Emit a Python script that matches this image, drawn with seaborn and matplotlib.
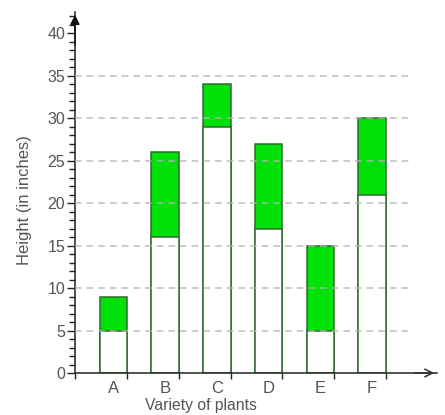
import numpy as np
import pandas as pd
import matplotlib
matplotlib.use("Agg")
import matplotlib.pyplot as plt
from matplotlib.ticker import MultipleLocator, FixedLocator
import seaborn as sns

# data
plants = ["A", "B", "C", "D", "E", "F"]
low = [5, 16, 29, 17, 5, 21]     # white lower part
high = [9, 26, 34, 27, 15, 30]   # top of the green part

sns.set_theme(style="white")
plt.rcParams['font.family'] = ['Liberation Sans', 'DejaVu Sans']

df = pd.DataFrame({"plant": plants, "low": low, "high": high})

fig = plt.figure(figsize=(4.45, 4.15), dpi=100)
ax = fig.add_axes([75 / 445, 42 / 415, (437 - 75) / 445, (373 - 12) / 415])

green = "#00e10a"
edge = "#2f6b2f"
bar_w = 0.53

sns.barplot(data=df, x="plant", y="high", color=green, width=bar_w,
            edgecolor=edge, linewidth=1.1, saturation=1, ax=ax)
sns.barplot(data=df, x="plant", y="low", color="white", width=bar_w,
            edgecolor=edge, linewidth=1.1, saturation=1, ax=ax)

x_left = -0.745
x_right = 6.26
ax.set_xlim(x_left, x_right)
ax.set_ylim(0, 42.5)

# dashed guide lines, drawn on top
ax.hlines(np.arange(5, 40, 5), x_left, 5.73, colors="#b5b5b5",
          linestyles=(0, (4, 3)), linewidth=1.2, alpha=0.8, zorder=5)

for s in ["top", "right"]:
    ax.spines[s].set_visible(False)
for s in ["left", "bottom"]:
    ax.spines[s].set_color("#222222")
    ax.spines[s].set_linewidth(1.1)

# arrows on the axes
ax.annotate("", xy=(0, 1.0), xytext=(0, 0.9), xycoords="axes fraction",
            arrowprops=dict(arrowstyle="-|>", color="#111111", lw=1.1,
                            mutation_scale=14))
ax.annotate("", xy=(1.0, 0), xytext=(0.93, 0), xycoords="axes fraction",
            arrowprops=dict(arrowstyle="->", color="#333333", lw=1.1,
                            mutation_scale=14))

ax.yaxis.set_major_locator(FixedLocator(np.arange(0, 45, 5)))
ax.yaxis.set_minor_locator(MultipleLocator(1))
ax.tick_params(axis="y", which="major", direction="out", length=6, width=1,
               color="#222222", labelsize=11.5, labelcolor="#555555", pad=1, left=True)
ax.tick_params(axis="y", which="minor", direction="out", length=4, width=1,
               color="#222222", left=True)

# x: labels at bar centres, tick marks at bar right edges
ax.xaxis.set_minor_locator(FixedLocator([x_left] + [i + bar_w / 2 for i in range(len(plants))]))
ax.tick_params(axis="x", which="major", length=0, labelsize=12,
               labelcolor="#555555", pad=6)
ax.tick_params(axis="x", which="minor", direction="out", length=4, width=1,
               color="#222222", bottom=True)

ax.set_xlabel("")
ax.set_ylabel("")
fig.text(201 / 445, 1 - 405 / 415, "Variety of plants", ha="center", va="center",
         fontsize=11.3, color="#555555")
fig.text(25 / 445, 1 - 200 / 415, "Height (in inches)", ha="center", va="center",
         rotation=90, fontsize=12, color="#555555")

fig.savefig("out.png", dpi=100, facecolor="white")
